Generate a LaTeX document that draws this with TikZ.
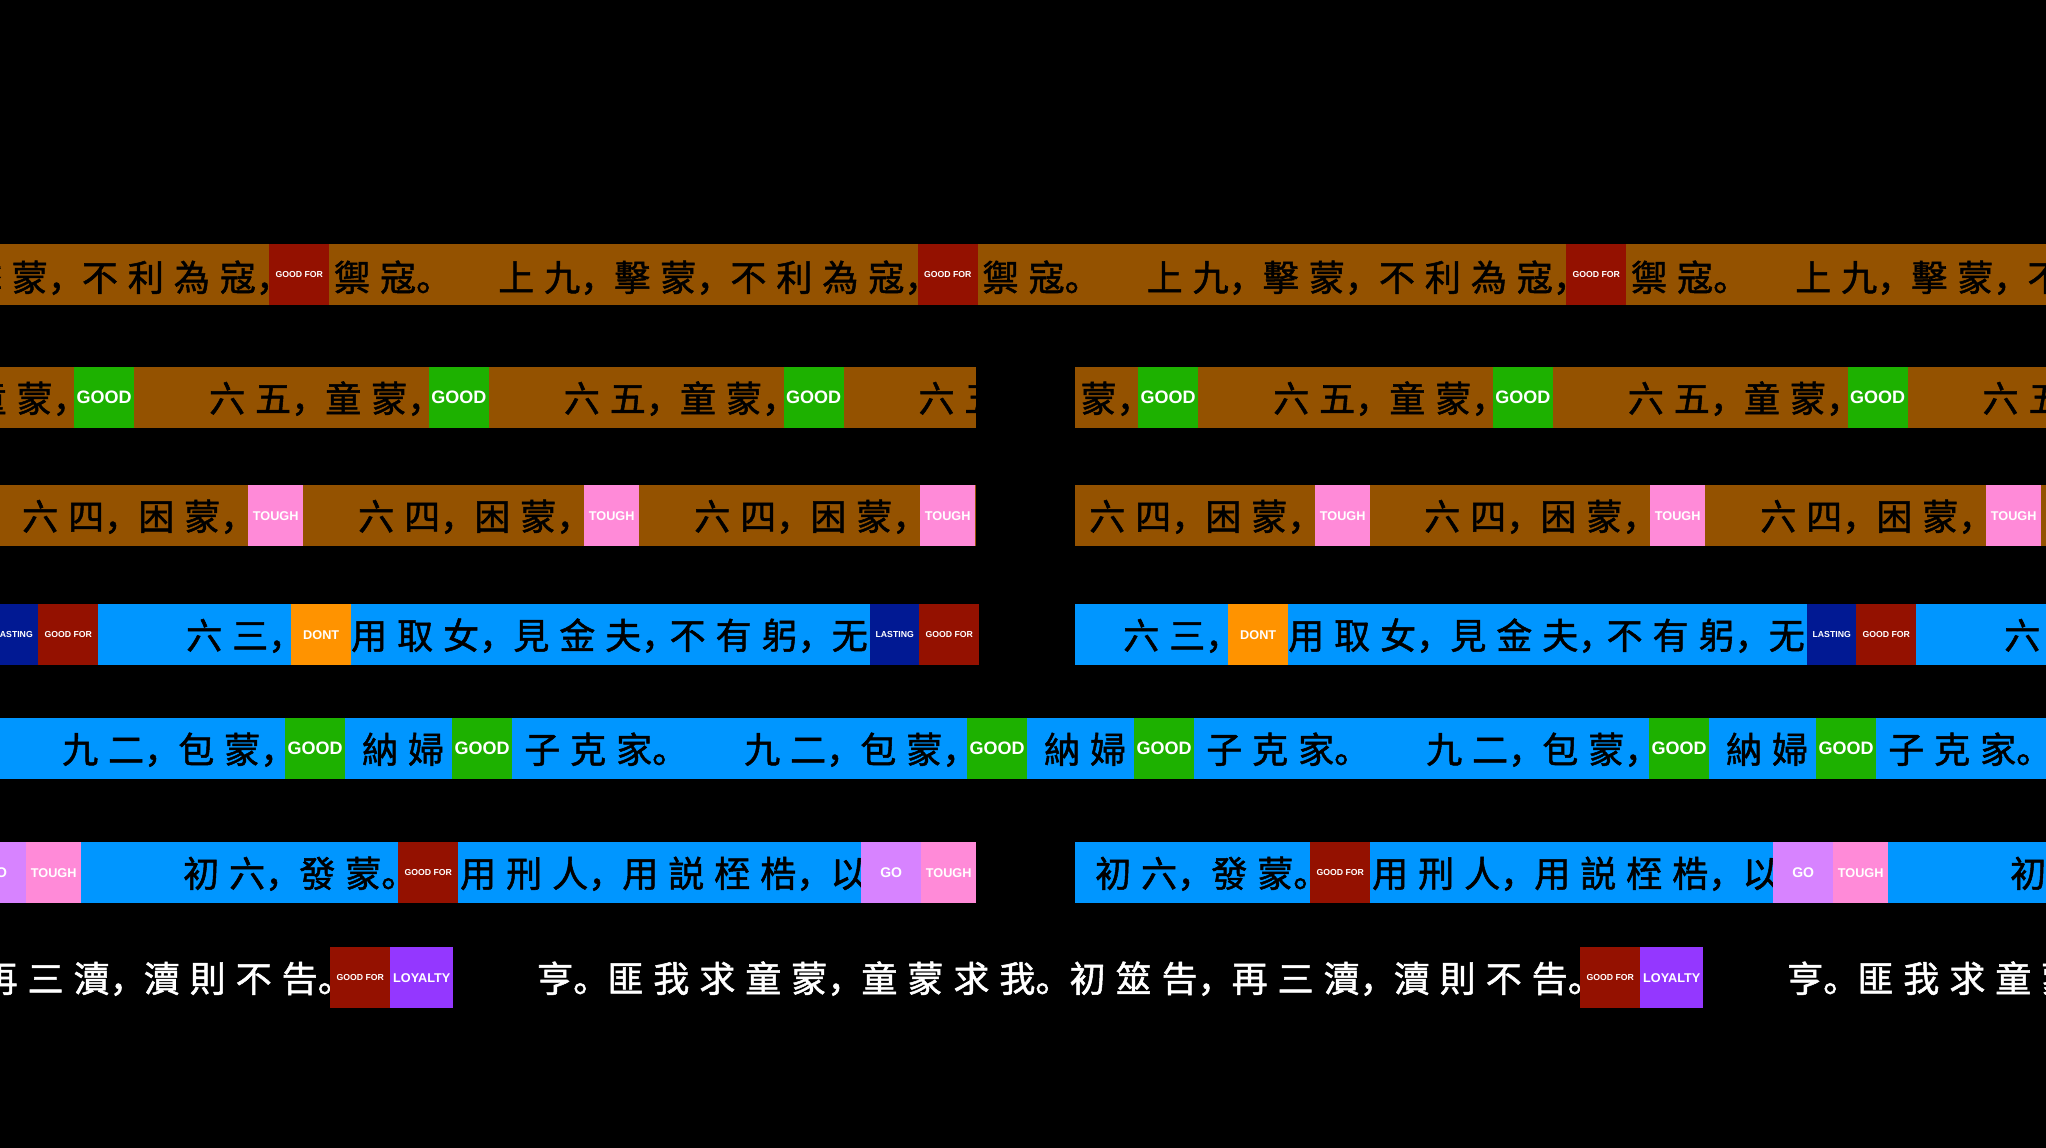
\documentclass[tikz,border=0pt]{standalone}
\usepackage{fontspec}
\newfontfamily\cjk[FakeBold=1.4]{Noto Sans CJK SC}
\newfontfamily\tagsans{Liberation Sans}

\definecolor{mocha}{HTML}{945200}
\definecolor{aqua}{HTML}{0096FF}
\definecolor{cayenne}{HTML}{941100}
\definecolor{clover}{HTML}{1DB100}
\definecolor{carnation}{HTML}{FF8AD8}
\definecolor{lavender}{HTML}{D783FF}
\definecolor{grape}{HTML}{9437FF}
\definecolor{midnight}{HTML}{011993}
\definecolor{tangerine}{HTML}{FF9300}

\newcommand{\zhcomma}{，\kern-.33em}
\newcommand{\zhstop}{。\kern-.33em}
\newcommand{\versefont}{\cjk\fontsize{36}{36}\selectfont\spaceskip=10pt\relax}
\newcommand{\tagsize}[1]{\tagsans\bfseries\fontsize{#1}{#1}\selectfont}

\tikzset{
  verse/.style={anchor=base west, inner sep=0pt, text=black, font=\versefont},
  tagbox/.style={anchor=north west, inner sep=0pt, minimum height=61pt, text=white},
  goodfor/.style={tagbox, fill=cayenne, minimum width=60pt, font=\tagsize{8.7}},
  lasting/.style={tagbox, fill=midnight, minimum width=49pt, font=\tagsize{8.7}},
  good/.style={tagbox, fill=clover, minimum width=60pt, font=\tagsize{18}},
  tough/.style={tagbox, fill=carnation, minimum width=55pt, font=\tagsize{12.7}},
  dont/.style={tagbox, fill=tangerine, minimum width=60pt, font=\tagsize{12.7}},
  go/.style={tagbox, fill=lavender, minimum width=60pt, font=\tagsize{14}},
  loyalty/.style={tagbox, fill=grape, minimum width=63pt, font=\tagsize{12.7}},
}

\begin{document}
\begin{tikzpicture}[x=1pt, y=-1pt]
  \useasboundingbox (0,0) rectangle (2046,1148);
  \fill[black] (0,0) rectangle (2046,1148);
  \clip (0,0) rectangle (2046,1148);

  % 上九
  \fill[mocha] (0,244) rectangle (2046,305);
  \foreach \gx [count=\i] in {-379.5,269,917.5,1566} {
    \node[goodfor] (ga\i) at (\gx,244) {GOOD FOR};
    \node[verse] (va\i) at (\gx+65,291) {禦 寇\zhstop};
    \node[verse] (wa\i) at (\gx+229,291) {上 九\zhcomma{} 擊 蒙\zhcomma{} 不 利 為 寇\zhcomma};
  }

  % 六五
  \foreach \wl/\wr in {0/976,1075/2046} {
    \begin{scope}
      \clip (\wl,367) rectangle (\wr,428);
      \fill[mocha] (\wl,367) rectangle (\wr,428);
      \foreach \gx [count=\i] in {-280.7,74,428.7,783.3,1138,1492.7,1847.3} {
        \node[good] (gb\i) at (\gx,367) {GOOD};
        \node[verse] (vb\i) at (\gx+135,412) {六 五\zhcomma{} 童 蒙\zhcomma};
      }
    \end{scope}
  }

  % 六四
  \foreach \wl/\wr/\gs in {0/976/{248,584,920},1075/2046/{1315,1650,1986}} {
    \begin{scope}
      \clip (\wl,485) rectangle (\wr,546);
      \fill[mocha] (\wl,485) rectangle (\wr,546);
      \foreach \gx [count=\i] in \gs {
        \node[tough] (tc\i) at (\gx,485) {TOUGH};
        \node[verse] (vc\i) at (\gx-226,530) {六 四\zhcomma{} 困 蒙\zhcomma};
      }
    \end{scope}
  }

  % 六三
  \foreach \wl/\wr/\ds in {0/979/{-590,291},1075/2046/{1228,2109}} {
    \begin{scope}
      \clip (\wl,604) rectangle (\wr,665);
      \fill[aqua] (\wl,604) rectangle (\wr,665);
      \foreach \dx [count=\i] in \ds {
        \node[verse] (vd\i) at (\dx-105,649) {六 三\zhcomma};
        \node[dont] (dd\i) at (\dx,604) {DONT};
        \node[verse] (wd\i) at (\dx+60,649) {用 取 女\zhcomma{} 見 金 夫\zhcomma};
        \node[verse, anchor=base east] (xd\i) at (\dx+577,649) {不 有 躬\zhcomma{} 无};
        \node[lasting] (ld\i) at (\dx+579,604) {LASTING};
        \node[goodfor] (gd\i) at (\dx+628,604) {GOOD FOR};
      }
    \end{scope}
  }

  % 九二
  \fill[aqua] (0,718) rectangle (2046,779);
  \foreach \qx [count=\i] in {285,967,1649} {
    \node[verse] (ve\i) at (\qx-223,763) {九 二\zhcomma{} 包 蒙\zhcomma};
    \node[good] (ge\i) at (\qx,718) {GOOD};
    \node[verse] (we\i) at (\qx+77,763) {納 婦};
    \node[good] (he\i) at (\qx+167,718) {GOOD};
    \node[verse] (xe\i) at (\qx+239,763) {子 克 家\zhstop};
  }

  % 初六
  \foreach \wl/\wr/\fs in {0/976/{-497,398},1075/2046/{1310,2225}} {
    \begin{scope}
      \clip (\wl,842) rectangle (\wr,903);
      \fill[aqua] (\wl,842) rectangle (\wr,903);
      \foreach \fx [count=\i] in \fs {
        \node[verse] (vf\i) at (\fx-215,887) {初 六\zhcomma{} 發 蒙\zhstop};
        \node[goodfor] (gf\i) at (\fx,842) {GOOD FOR};
        \node[verse] (wf\i) at (\fx+62,887) {用 刑 人\zhcomma{} 用 説 桎 梏\zhcomma{} 以};
        \node[go] (of\i) at (\fx+463,842) {GO};
        \node[tough] (tf\i) at (\fx+523,842) {TOUGH};
      }
    \end{scope}
  }

  % 卦辭
  \foreach \bx [count=\i] in {-920,330,1580} {
    \node[verse, text=white] (vg\i) at (\bx+207,992) {亨\zhstop{} 匪 我 求 童 蒙\zhcomma{} 童 蒙 求 我\zhstop{} 初 筮 告\zhcomma{} 再 三 瀆\zhcomma{} 瀆 則 不 告\zhstop};
    \node[goodfor] (gg\i) at (\bx,947) {GOOD FOR};
    \node[loyalty] (lg\i) at (\bx+60,947) {LOYALTY};
  }
\end{tikzpicture}
\end{document}
